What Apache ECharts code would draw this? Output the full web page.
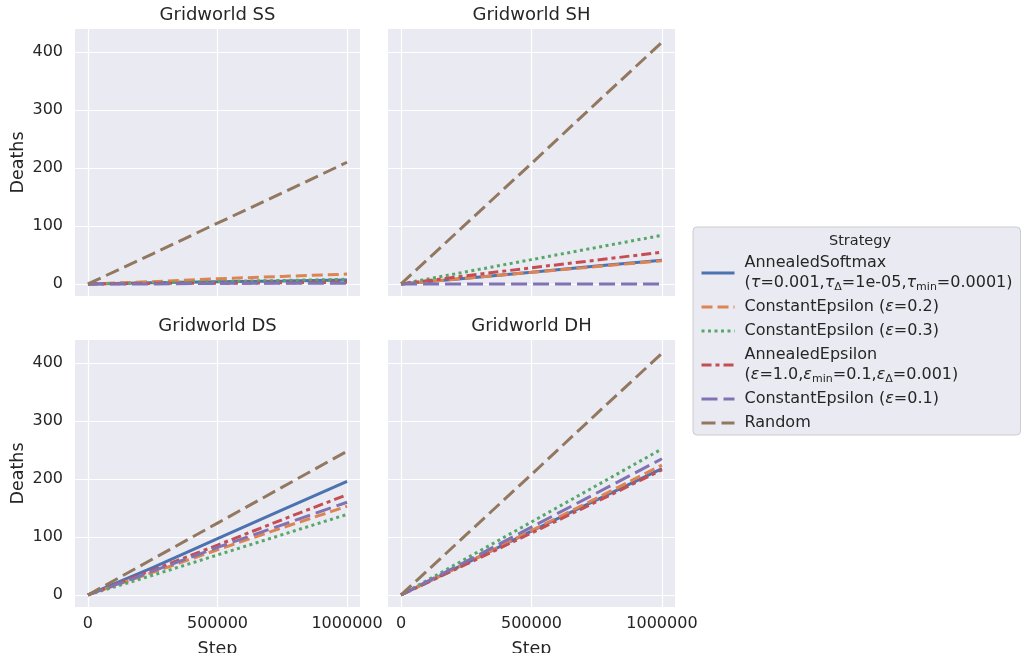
<!DOCTYPE html>
<html>
<head>
<meta charset="utf-8">
<title>Gridworld deaths</title>
<script src="https://cdn.jsdelivr.net/npm/echarts@6/dist/echarts.min.js"></script>
<style>
  html, body { margin: 0; padding: 0; background: #fff; }
  #chart { width: 1024px; height: 653px; }
</style>
</head>
<body>
<div id="chart"></div>
<script>
// x values (steps) shared by every series
const steps = [0, 250000, 500000, 750000, 1000000]
const panels = ['Gridworld SS', 'Gridworld SH', 'Gridworld DS', 'Gridworld DH']
const strategies = [
  'AnnealedSoftmax',
  'ConstantEpsilon 0.2',
  'ConstantEpsilon 0.3',
  'AnnealedEpsilon',
  'ConstantEpsilon 0.1',
  'Random',
]

// deaths per strategy, one array per panel (same order as strategies)
const deathsSS = [
  [0, 2, 4, 5, 7],
  [0, 4, 9, 13, 17],
  [0, 2, 4, 6, 8],
  [0, 1, 1, 2, 3],
  [0, 0, 1, 1, 1],
  [0, 52, 105, 157, 210],
]
const deathsSH = [
  [0, 10, 20, 31, 41],
  [0, 10, 20, 30, 40],
  [0, 21, 42, 63, 84],
  [0, 14, 28, 41, 55],
  [0, 0, 0, 0, 0],
  [0, 104, 208, 313, 417],
]
const deathsDS = [
  [0, 47, 97, 147, 196],
  [0, 39, 78, 116, 153],
  [0, 34, 69, 104, 139],
  [0, 43, 86, 130, 173],
  [0, 41, 82, 121, 160],
  [0, 62, 124, 186, 248],
]
const deathsDH = [
  [0, 55, 110, 164, 218],
  [0, 55, 111, 167, 224],
  [0, 63, 126, 189, 252],
  [0, 53, 107, 161, 216],
  [0, 58, 117, 176, 235],
  [0, 104, 208, 313, 417],
]
const yTicks = [0, 100, 200, 300, 400]
const xTicks = [0, 500000, 1000000]

const allDeaths = [deathsSS, deathsSH, deathsDS, deathsDH]

const colors = ['#4C72B0', '#DD8452', '#55A868', '#C44E52', '#8172B3', '#937860']
const dashes = ['solid', [11, 5], [3, 3.5], [10, 4, 4, 4], [16, 6], [14, 6]]
const font = 'DejaVu Sans'
const textColor = '#262626'

const grids = [
  { left: 75, top: 29, width: 285, height: 267 },
  { left: 388, top: 29, width: 287, height: 267 },
  { left: 75, top: 340, width: 285, height: 267 },
  { left: 388, top: 340, width: 287, height: 267 },
]

const chart = echarts.init(document.getElementById('chart'))

const xAxes = grids.map((g, i) => ({
  type: 'value',
  gridIndex: i,
  min: -50000,
  max: 1050000,
  name: i >= 2 ? 'Step' : '',
  nameLocation: 'middle',
  nameGap: 33,
  nameTextStyle: { fontFamily: font, fontSize: 17.5, color: textColor },
  axisLine: { show: false },
  axisTick: { show: false, customValues: xTicks },
  axisLabel: {
    show: i >= 2,
    customValues: xTicks,
    formatter: v => String(v),
    fontFamily: font,
    fontSize: 16,
    color: textColor,
    margin: 9,
  },
  splitLine: { show: true, lineStyle: { color: '#fff', width: 1.2 } },
}))

const yAxes = grids.map((g, i) => ({
  type: 'value',
  gridIndex: i,
  min: -20.8,
  max: 440,
  name: i % 2 === 0 ? 'Deaths' : '',
  nameLocation: 'middle',
  nameGap: 48,
  nameTextStyle: { fontFamily: font, fontSize: 17.5, color: textColor },
  axisLine: { show: false },
  axisTick: { show: false, customValues: yTicks },
  axisLabel: {
    show: i % 2 === 0,
    customValues: yTicks,
    formatter: v => String(v),
    fontFamily: font,
    fontSize: 16,
    color: textColor,
    margin: 12,
  },
  splitLine: { show: true, lineStyle: { color: '#fff', width: 1.2 } },
}))

const series = []
allDeaths.forEach((panel, p) => {
  panel.forEach((vals, s) => {
    series.push({
      name: strategies[s],
      type: 'line',
      xAxisIndex: p,
      yAxisIndex: p,
      data: steps.map((x, k) => [x, vals[k]]),
      showSymbol: false,
      symbol: 'none',
      silent: true,
      color: colors[s],
      lineStyle: { color: colors[s], width: 3, type: dashes[s] },
    })
  })
})

const legendLabels = {
  'AnnealedSoftmax':
    'AnnealedSoftmax\n({g|τ}=0.001,{g|τ}{s|Δ}=1e-05,{g|τ}{s|min}=0.0001)',
  'ConstantEpsilon 0.2': 'ConstantEpsilon ({g|ε}=0.2)',
  'ConstantEpsilon 0.3': 'ConstantEpsilon ({g|ε}=0.3)',
  'AnnealedEpsilon':
    'AnnealedEpsilon\n({g|ε}=1.0,{g|ε}{s|min}=0.1,{g|ε}{s|Δ}=0.001)',
  'ConstantEpsilon 0.1': 'ConstantEpsilon ({g|ε}=0.1)',
  'Random': 'Random',
}

const titles = panels.map((t, i) => ({
  text: t,
  left: grids[i].left + grids[i].width / 2,
  top: 6,
  textAlign: 'center',
  padding: 0,
  textStyle: { fontFamily: font, fontSize: 18, fontWeight: 'normal', color: textColor },
}))
titles[2].top = 317
titles[3].top = 317
titles.push({
  text: 'Strategy',
  left: 860,
  top: 234,
  textAlign: 'center',
  padding: 0,
  textStyle: { fontFamily: font, fontSize: 14.5, fontWeight: 'normal', color: textColor },
})

chart.setOption({
  backgroundColor: '#fff',
  animation: false,
  title: titles,
  grid: grids.map(g => ({
    ...g,
    backgroundColor: '#EAEAF2',
    show: true,
    borderWidth: 0,
    containLabel: false,
    outerBoundsMode: 'none',
  })),
  xAxis: xAxes,
  yAxis: yAxes,
  legend: {
    orient: 'vertical',
    left: 693,
    top: 227,
    padding: [26, 8, 2, 7],
    itemGap: 4,
    itemWidth: 33,
    itemHeight: 14,
    backgroundColor: '#EAEAF2',
    borderColor: '#cccccc',
    borderWidth: 1,
    borderRadius: 4,
    selectedMode: false,
    data: strategies.map((s, i) => ({
      name: s,
      icon: 'inherit',
      itemStyle: { opacity: 0 },
      lineStyle: { color: colors[i], width: 3, type: dashes[i] },
    })),
    formatter: name => legendLabels[name],
    textStyle: {
      fontFamily: font,
      fontSize: 16,
      color: textColor,
      lineHeight: 20,
      padding: [0, 0, 0, 5],
      rich: {
        g: { fontFamily: font, fontSize: 16, fontStyle: 'italic', color: textColor, lineHeight: 20 },
        s: { fontFamily: font, fontSize: 11, color: textColor, verticalAlign: 'bottom', lineHeight: 20 },
      },
    },
  },
  series,
})
</script>
</body>
</html>
